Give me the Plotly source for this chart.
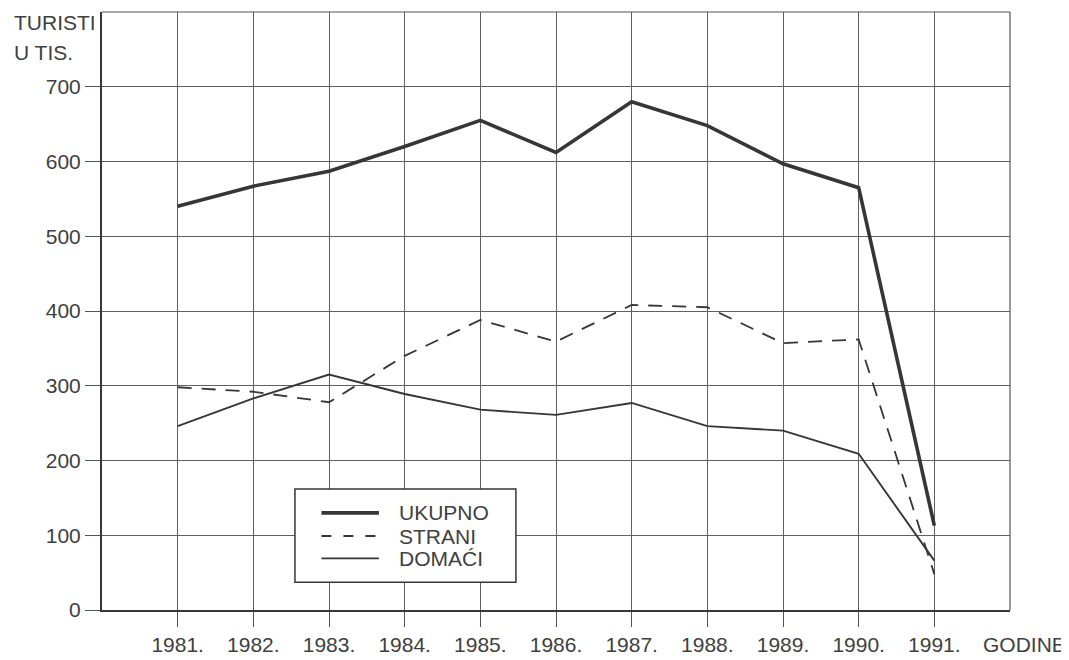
import plotly.graph_objects as go

years = [1981, 1982, 1983, 1984, 1985, 1986, 1987, 1988, 1989, 1990, 1991]
year_labels = [f"{y}." for y in years]
ukupno = [540, 567, 587, 620, 655, 612, 680, 648, 597, 565, 113]
strani = [298, 292, 278, 340, 388, 359, 408, 405, 357, 362, 48]
domaci = [246, 283, 315, 289, 268, 261, 277, 246, 240, 209, 66]
series_names = ["UKUPNO", "STRANI", "DOMAĆI"]
y_ticks = [0, 100, 200, 300, 400, 500, 600, 700]

INK = "#363636"
TXT = "#404040"
FONT = "Liberation Sans, Arial, sans-serif"
FS = 21

fig = go.Figure()
styles = [dict(width=3.6, dash="solid"), dict(width=1.8, dash="14px,10px"), dict(width=1.9, dash="solid")]
for name, vals, st in zip(series_names, [ukupno, strani, domaci], styles):
    fig.add_trace(go.Scatter(x=years, y=vals, mode="lines", name=name,
                             line=dict(color=INK, width=st["width"], dash=st["dash"]),
                             showlegend=False))

shapes = [
    dict(type="line", xref="paper", yref="paper", x0=0, x1=1, y0=1, y1=1, line=dict(color="#555", width=1.2)),
    dict(type="line", xref="paper", yref="paper", x0=1, x1=1, y0=0, y1=1, line=dict(color="#555", width=1.2)),
    dict(type="rect", xref="x", yref="y", x0=1982.55, x1=1985.47, y0=37, y1=162,
         fillcolor="white", line=dict(color=INK, width=1.5), layer="above"),
]
leg_y = [130, 99, 69]
for name, st, ly in zip(series_names, styles, leg_y):
    shapes.append(dict(type="line", xref="x", yref="y", x0=1982.9, x1=1983.66, y0=ly, y1=ly,
                       line=dict(color=INK, width=st["width"], dash="solid" if st["dash"] == "solid" else "10px,12px"),
                       layer="above"))
    fig.add_annotation(x=1983.9, y=ly, xref="x", yref="y", text=name, showarrow=False,
                       xanchor="left", yanchor="middle", font=dict(size=FS, color=TXT, family=FONT))

fig.add_annotation(x=0, y=1, xref="paper", yref="paper", text="TURISTI", showarrow=False,
                   xanchor="left", yanchor="middle", xshift=-90, yshift=-10,
                   font=dict(size=FS, color=TXT, family=FONT))
fig.add_annotation(x=0, y=1, xref="paper", yref="paper", text="U TIS.", showarrow=False,
                   xanchor="left", yanchor="middle", xshift=-90, yshift=-40,
                   font=dict(size=FS, color=TXT, family=FONT))
fig.add_annotation(x=1, y=0, xref="paper", yref="paper", text="GODINE", showarrow=False,
                   xanchor="center", yanchor="middle", xshift=14, yshift=-34,
                   font=dict(size=FS, color=TXT, family=FONT))

fig.update_layout(
    width=1061, height=652,
    margin=dict(l=94, r=59, t=4, b=45),
    paper_bgcolor="white", plot_bgcolor="white",
    shapes=shapes,
    font=dict(family=FONT, size=FS, color=TXT),
)
fig.update_xaxes(range=[1980, 1992], tickmode="array", tickvals=years, ticktext=year_labels,
                 showgrid=True, gridcolor="#606060", gridwidth=1,
                 showline=True, linecolor=INK, linewidth=2,
                 ticks="outside", ticklen=15, tickcolor="#555", tickwidth=1,
                 tickfont=dict(size=FS, color=TXT, family=FONT), zeroline=False)
fig.update_yaxes(range=[0, 800], tickmode="array", tickvals=y_ticks,
                 showgrid=True, gridcolor="#606060", gridwidth=1,
                 showline=True, linecolor=INK, linewidth=2,
                 ticks="outside", ticklen=15, tickcolor="#555", tickwidth=1,
                 tickfont=dict(size=FS, color=TXT, family=FONT), zeroline=False)

fig.write_html("out.html")
